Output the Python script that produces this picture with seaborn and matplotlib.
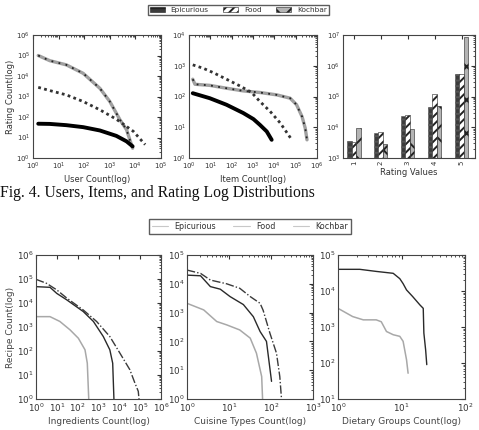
import matplotlib
matplotlib.use("Agg")
import pandas as pd
import matplotlib.pyplot as plt
import seaborn as sns
from matplotlib.patches import Patch
from matplotlib.lines import Line2D
from matplotlib.ticker import LogLocator

datasets = ["Epicurious", "Food", "Kochbar"]

# top row: users / items (log-log)
user_epi_x = [1.6, 4.5, 20, 91, 410, 1800, 4500, 7800]
user_epi_y = [47, 46, 40, 32, 22, 12, 6.5, 3.7]
user_food_x = [1.6, 4.5, 20, 91, 410, 1800, 8300, 24000]
user_food_y = [2800, 1950, 1200, 570, 224, 78, 20, 4.5]
user_koch_x = [1.6, 4.5, 20, 91, 410, 1000, 2500, 4500, 7800]
user_koch_y = [100000, 56000, 35000, 13500, 2500, 570, 73, 24, 3]

item_epi_x = [1.5, 9.4, 57, 350, 1050, 2100, 4400, 7500]
item_epi_y = [128, 88, 54, 29, 18.4, 12, 7.3, 3.9]
item_food_x = [1.5, 4.6, 13.5, 57, 245, 860, 2100, 6300, 19000, 66000]
item_food_y = [1070, 830, 600, 365, 220, 135, 69, 33, 13.7, 3.9]
item_koch_x = [1.5, 1.9, 9.4, 57, 350, 2100, 13000, 55000, 110000, 200000, 280000, 340000]
item_koch_y = [365, 250, 230, 186, 152, 135, 113, 88, 54, 22, 9.4, 3.9]

rating_values = ["1", "2", "3", "4", "5"]
rating_epi = [3500, 6500, 24000, 45000, 520000]
rating_food = [3400, 6800, 25000, 120000, 550000]
rating_koch = [9300, 2800, 9000, 50000, 8300000]

# bottom row: recipes
ingr_epi_x = [1, 4.7, 14, 43, 108, 225, 290, 340]
ingr_epi_y = [2700, 2700, 1700, 760, 340, 112, 31, 1]
ingr_food_x = [1, 4.7, 10, 30, 186, 570, 1700, 3500, 4800, 5500]
ingr_food_y = [48000, 45000, 25000, 13500, 4400, 1700, 400, 112, 31, 1]
ingr_koch_x = [1, 3.2, 10, 30, 186, 810, 3500, 10700, 32000, 56000, 81000, 88000]
ingr_koch_y = [97000, 66000, 35000, 16000, 5100, 1700, 400, 81, 16.6, 4.6, 2.1, 1]

cuis_epi_x = [1, 2.5, 5.1, 8.8, 18, 32, 45, 60, 63]
cuis_epi_y = [2100, 1240, 490, 375, 250, 130, 39, 6, 1]
cuis_food_x = [1, 2.1, 3.6, 6.2, 10.6, 22, 38, 55, 78, 103]
cuis_food_y = [20000, 19000, 8000, 6500, 3600, 1900, 720, 220, 100, 4.1]
cuis_koch_x = [1, 2.1, 3.6, 8.8, 18, 32, 55, 65, 94, 135, 162, 178]
cuis_koch_y = [30000, 23000, 13500, 10000, 7000, 3600, 2100, 1200, 195, 39, 6, 1]

diet_epi_x = [1, 1.7, 2.5, 4, 4.8, 5.8, 7.4, 9.4, 10.6, 12, 12.7]
diet_epi_y = [3300, 1950, 1580, 1580, 1400, 750, 610, 550, 400, 123, 52]
diet_food_x = [1, 2.2, 4, 7.4, 9.4, 10.6, 12, 15, 19.5, 22, 22.5, 24, 25]
diet_food_y = [40000, 40000, 35000, 31000, 22000, 16000, 10700, 7000, 4100, 3300, 680, 230, 90]

sns.set_style("white")
plt.rcParams["font.family"] = ["DejaVu Sans"]
plt.rcParams["hatch.linewidth"] = 1.4

fig = plt.figure(figsize=(4.79, 4.30), dpi=100)

W, H = 479, 430
def box(l, t, r, b):
    return [l / W, 1 - b / H, (r - l) / W, (b - t) / H]

def style(ax, fs, logx=True):
    if logx:
        ax.xaxis.set_major_locator(LogLocator(base=10, numticks=20))
    ax.yaxis.set_major_locator(LogLocator(base=10, numticks=20))
    ax.tick_params(which="both", direction="in", top=True, right=True,
                   labelsize=fs, colors="#333333", length=3, pad=2)
    ax.tick_params(which="minor", length=1.5)
    for s in ax.spines.values():
        s.set_color("#444444")
        s.set_linewidth(0.8)

def curve(ax, x, y, **kw):
    sns.lineplot(x=x, y=y, ax=ax, estimator=None, sort=False, **kw)

# ---- top row ----
ax1 = fig.add_axes(box(33, 35, 161, 158))
curve(ax1, user_koch_x, user_koch_y, color="#a0a0a0", lw=2.4)
curve(ax1, user_koch_x, user_koch_y, color="#222222", lw=1.3, linestyle=(0, (1, 3)))
curve(ax1, user_food_x, user_food_y, color="#333333", lw=2.0, linestyle=(0, (1, 1.2)))
curve(ax1, user_epi_x, user_epi_y, color="black", lw=2.8)
ax1.set_xscale("log"); ax1.set_yscale("log")
ax1.set_xlim(1, 1e5); ax1.set_ylim(1, 1e6)
ax1.set_xlabel("User Count(log)", fontsize=6, color="#333333", labelpad=2)
ax1.set_ylabel("Rating Count(log)", fontsize=6, color="#333333", labelpad=1)
style(ax1, 5)

ax2 = fig.add_axes(box(189, 35, 317, 158))
curve(ax2, item_koch_x, item_koch_y, color="#a0a0a0", lw=2.4)
curve(ax2, item_koch_x, item_koch_y, color="#222222", lw=1.3, linestyle=(0, (1, 3)))
curve(ax2, item_food_x, item_food_y, color="#333333", lw=2.0, linestyle=(0, (1, 1.2)))
curve(ax2, item_epi_x, item_epi_y, color="black", lw=2.8)
ax2.set_xscale("log"); ax2.set_yscale("log")
ax2.set_xlim(1, 1e6); ax2.set_ylim(1, 1e4)
ax2.set_xlabel("Item Count(log)", fontsize=6, color="#333333", labelpad=2)
ax2.set_ylabel("")
style(ax2, 5)

ax3 = fig.add_axes(box(343, 35, 475, 158))
bars = pd.DataFrame({
    "rating": rating_values * 3,
    "dataset": sum([[d] * 5 for d in datasets], []),
    "count": rating_epi + rating_food + rating_koch,
})
bar_face = {"Epicurious": "#3c3c3c", "Food": "white", "Kochbar": "#b4b4b4"}
bar_hatch = {"Epicurious": "---", "Food": "////", "Kochbar": "x"}
sns.barplot(data=bars, x="rating", y="count", hue="dataset", hue_order=datasets,
            palette=bar_face, width=0.5, legend=False, ax=ax3)
for cont, d in zip(ax3.containers, datasets):
    for p in cont:
        p.set_facecolor(bar_face[d])
        p.set_hatch(bar_hatch[d])
        p.set_edgecolor("#222222" if d != "Epicurious" else "#555555")
        p.set_linewidth(0.4)
ax3.set_yscale("log")
ax3.set_ylim(1e3, 1e7)
ax3.set_xlim(-0.4, 4.5)
ax3.set_xlabel("Rating Values", fontsize=6, color="#333333", labelpad=2)
ax3.set_ylabel("")
style(ax3, 5, logx=False)
ax3.tick_params(axis="x", rotation=90)

fig.legend(handles=[Patch(facecolor=bar_face[d], hatch=bar_hatch[d], edgecolor="#222222",
                          linewidth=0.4, label=d) for d in datasets],
           loc="center", bbox_to_anchor=(238.5 / W, 1 - 10 / H), ncol=3,
           fontsize=5.3, frameon=True, fancybox=False, edgecolor="#333333",
           handlelength=2.0, handleheight=0.8, columnspacing=2.0,
           borderpad=0.3, labelcolor="#333333")

fig.text(0.0, 1 - 193 / H, "Fig. 4. Users, Items, and Rating Log Distributions",
         family="Liberation Serif", fontsize=11.3, va="center", ha="left", color="#111111")

# ---- bottom row ----
line_style = {"Epicurious": dict(color="#a8a8a8", lw=1.1),
              "Food": dict(color="#2a2a2a", lw=1.0),
              "Kochbar": dict(color="#3a3a3a", lw=1.0, linestyle=(0, (6, 1.5, 1, 1.5)))}

bx1 = fig.add_axes(box(36, 255, 161, 399))
curve(bx1, ingr_epi_x, ingr_epi_y, **line_style["Epicurious"])
curve(bx1, ingr_food_x, ingr_food_y, **line_style["Food"])
curve(bx1, ingr_koch_x, ingr_koch_y, **line_style["Kochbar"])
bx1.set_xscale("log"); bx1.set_yscale("log")
bx1.set_xlim(1, 1e6); bx1.set_ylim(1, 1e6)
bx1.set_xlabel("Ingredients Count(log)", fontsize=6.5, color="#444444", labelpad=2)
bx1.set_ylabel("Recipe Count(log)", fontsize=6.5, color="#444444", labelpad=1)
style(bx1, 6.3)

bx2 = fig.add_axes(box(187, 255, 313, 399))
curve(bx2, cuis_epi_x, cuis_epi_y, **line_style["Epicurious"])
curve(bx2, cuis_food_x, cuis_food_y, **line_style["Food"])
curve(bx2, cuis_koch_x, cuis_koch_y, **line_style["Kochbar"])
bx2.set_xscale("log"); bx2.set_yscale("log")
bx2.set_xlim(1, 1e3); bx2.set_ylim(1, 1e5)
bx2.set_xlabel("Cuisine Types Count(log)", fontsize=6.5, color="#444444", labelpad=2)
bx2.set_ylabel("")
style(bx2, 6.3)

bx3 = fig.add_axes(box(338, 255, 465, 399))
curve(bx3, diet_epi_x, diet_epi_y, **line_style["Epicurious"])
curve(bx3, diet_food_x, diet_food_y, **line_style["Food"])
bx3.set_xscale("log"); bx3.set_yscale("log")
bx3.set_xlim(1, 1e2); bx3.set_ylim(10, 1e5)
bx3.set_xlabel("Dietary Groups Count(log)", fontsize=6.5, color="#444444", labelpad=2)
bx3.set_ylabel("")
style(bx3, 6.3)

fig.legend(handles=[Line2D([], [], color="#c8c8c8", lw=0.8, label=d) for d in datasets],
           loc="center", bbox_to_anchor=(250 / W, 1 - 226.5 / H), ncol=3,
           fontsize=5.8, frameon=True, fancybox=False, edgecolor="#333333",
           handlelength=2.0, columnspacing=2.2, borderpad=0.35, labelcolor="#333333")

fig.savefig("out.png", dpi=100)
